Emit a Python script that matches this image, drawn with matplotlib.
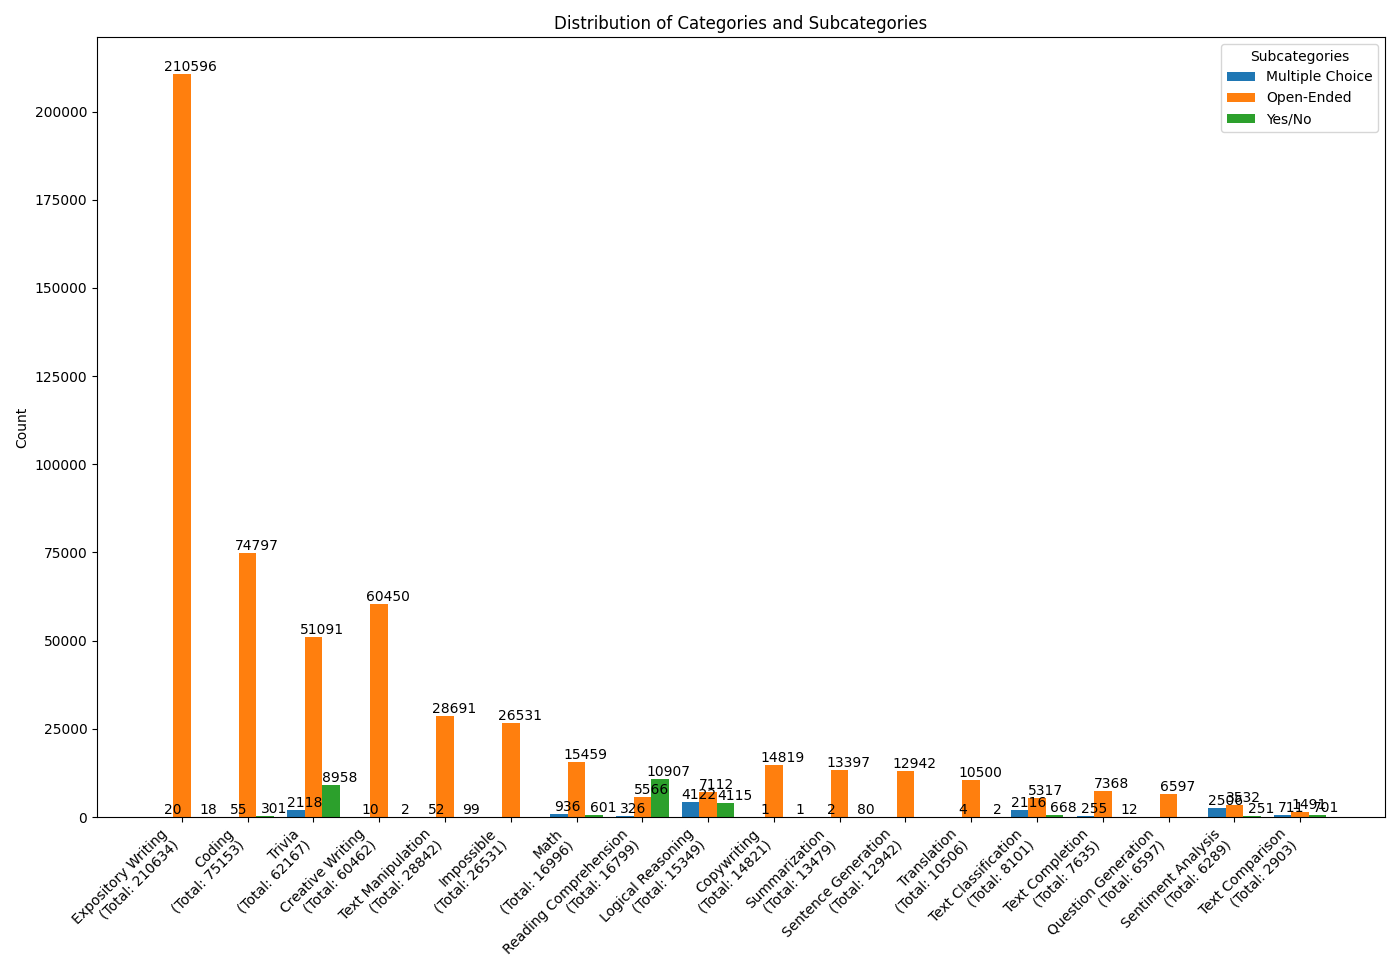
import matplotlib
matplotlib.use('Agg')
import matplotlib.pyplot as plt
import numpy as np

# ── DATA ─────────────────────────────────────────────────────────────────────
categories = ['Expository Writing', 'Coding', 'Trivia', 'Creative Writing',
              'Text Manipulation', 'Impossible', 'Math', 'Reading Comprehension',
              'Logical Reasoning', 'Copywriting', 'Summarization',
              'Sentence Generation', 'Translation', 'Text Classification',
              'Text Completion', 'Question Generation', 'Sentiment Analysis',
              'Text Comparison']
subcategories = ['Multiple Choice', 'Open-Ended', 'Yes/No']

multiple_choice = [20, 55, 2118, 10, 52, 0, 936, 326, 4122, 1, 2, 0, 4, 2116, 255, 0, 2506, 711]
open_ended = [210596, 74797, 51091, 60450, 28691, 26531, 15459, 5566, 7112,
              14819, 13397, 12942, 10500, 5317, 7368, 6597, 3532, 1491]
yes_no = [18, 301, 8958, 2, 99, 0, 601, 10907, 4115, 1, 80, 0, 2, 668, 12, 0, 251, 701]

totals = [a + b + c for a, b, c in zip(multiple_choice, open_ended, yes_no)]
tick_labels = [f'{c}\n(Total: {t})' for c, t in zip(categories, totals)]

# ── PLOT ─────────────────────────────────────────────────────────────────────
fig, ax = plt.subplots(figsize=(14, 9.8), dpi=100)
x = np.arange(len(categories))
w = 0.8 / 3

series = [multiple_choice, open_ended, yes_no]
for k, (name, vals) in enumerate(zip(subcategories, series)):
    bars = ax.bar(x + (k - 1) * w, vals, width=w, label=name)
    # value labels sit at the bar's right edge, as in the original
    for bar, v in zip(bars, vals):
        if v > 0:
            ax.text(bar.get_x() + bar.get_width(), v, f'{v}',
                    ha='center', va='bottom', fontsize=10)

ax.set_xticks(x)
ax.set_xticklabels(tick_labels, rotation=45, ha='right')
ax.set_ylabel('Count')
ax.set_title('Distribution of Categories and Subcategories')
ax.legend(title='Subcategories', loc='upper right')

fig.subplots_adjust(left=0.0693, right=0.9893, bottom=0.1663, top=0.9622)
plt.savefig('out.png', dpi=100)
